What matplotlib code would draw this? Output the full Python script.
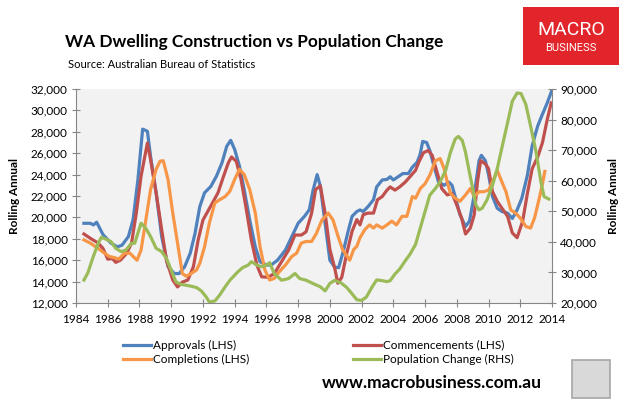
import matplotlib
matplotlib.use("Agg")
import matplotlib.pyplot as plt
from matplotlib.patches import Rectangle

plt.rcParams['font.family'] = ['Lato', 'DejaVu Sans']

# Approvals (LHS) - rolling annual
appr_yr = [1984.5, 1984.9, 1985.1, 1985.3, 1985.7, 1986.2, 1986.6, 1986.9, 1987.3, 1987.6,
           1987.9, 1988.2, 1988.5, 1988.7, 1989.05, 1989.4, 1989.8, 1990.2, 1990.5, 1990.85,
           1991.2, 1991.5, 1991.8, 1992.1, 1992.5, 1992.85, 1993.2, 1993.5, 1993.75, 1994.0,
           1994.3, 1994.6, 1994.95, 1995.3, 1995.6, 1996.0, 1996.3, 1996.7, 1997.2, 1997.6,
           1998.0, 1998.4, 1998.7, 1998.95, 1999.2, 1999.4, 1999.7, 2000.0, 2000.3, 2000.55,
           2000.85, 2001.15, 2001.4, 2001.7, 2001.9, 2002.1, 2002.4, 2002.75, 2002.95, 2003.3,
           2003.6, 2003.8, 2004.0, 2004.3, 2004.6, 2004.95, 2005.2, 2005.5, 2005.7, 2005.85,
           2006.1, 2006.3, 2006.55, 2006.85, 2007.2, 2007.5, 2007.7, 2007.9, 2008.2, 2008.55,
           2008.8, 2009.1, 2009.4, 2009.55, 2009.8, 2010.0, 2010.25, 2010.55, 2010.85, 2011.2,
           2011.5, 2011.8, 2012.1, 2012.45, 2012.75, 2013.1, 2013.4, 2013.7, 2014.0]
appr = [19450, 19450, 19300, 19550, 18400, 17600, 17250, 17400, 18200, 19800,
        23500, 28250, 28050, 25700, 22300, 18200, 15400, 14750, 14750, 15400,
        16650, 18500, 21000, 22300, 22900, 23850, 25100, 26650, 27200, 26350,
        24800, 22600, 19750, 17250, 15850, 15550, 15550, 16000, 16950, 18200,
        19450, 20100, 20700, 22600, 24000, 22900, 19450, 16000, 15350, 15300,
        16850, 18700, 20100, 20550, 20700, 20550, 21000, 21650, 22850, 23500,
        23550, 23800, 23500, 23800, 24100, 24100, 24700, 25150, 25950, 27100,
        27000, 26250, 24850, 23300, 23000, 23300, 23000, 21950, 20250, 19150,
        19650, 22100, 25300, 25800, 25300, 24000, 21950, 20850, 20550, 20400,
        19900, 20700, 21800, 23950, 26700, 28550, 29650, 30700, 31900]

# Commencements (LHS)
comm_yr = [1984.5, 1984.9, 1985.4, 1985.7, 1986.0, 1986.3, 1986.5, 1986.8, 1987.2, 1987.5,
           1987.8, 1988.1, 1988.5, 1988.7, 1989.05, 1989.4, 1989.7, 1990.1, 1990.4, 1990.7,
           1991.05, 1991.4, 1991.7, 1992.0, 1992.3, 1992.6, 1992.95, 1993.3, 1993.6, 1993.8,
           1994.1, 1994.4, 1994.7, 1995.05, 1995.4, 1995.7, 1996.1, 1996.5, 1996.95, 1997.4,
           1997.8, 1998.2, 1998.5, 1998.85, 1999.1, 1999.4, 1999.7, 2000.0, 2000.3, 2000.5,
           2000.75, 2001.05, 2001.4, 2001.7, 2001.9, 2002.1, 2002.4, 2002.75, 2003.0, 2003.3,
           2003.6, 2003.8, 2004.1, 2004.4, 2004.75, 2005.05, 2005.4, 2005.6, 2005.9, 2006.2,
           2006.45, 2006.75, 2007.05, 2007.4, 2007.7, 2008.0, 2008.3, 2008.55, 2008.85, 2009.1,
           2009.3, 2009.5, 2009.8, 2010.0, 2010.25, 2010.55, 2010.85, 2011.2, 2011.5, 2011.8,
           2012.15, 2012.45, 2012.75, 2013.1, 2013.4, 2013.7, 2013.95]
comm = [18450, 18050, 17600, 17100, 16100, 16150, 15800, 16000, 16650, 17600,
        20400, 23850, 26950, 25400, 22300, 18850, 16000, 14150, 13500, 13950,
        14150, 15400, 17900, 19750, 20550, 21350, 22300, 23850, 25100, 25650,
        25250, 23550, 21050, 17900, 15550, 14450, 14400, 14750, 15850, 16950,
        18350, 18350, 18650, 20400, 22600, 22950, 20400, 17000, 15300, 13850,
        14400, 16550, 18700, 19800, 19300, 20250, 20400, 20400, 21650, 21950,
        22550, 22850, 22550, 22850, 23300, 23800, 24400, 25150, 26050, 26250,
        25800, 24250, 22700, 22100, 22250, 21150, 19950, 18450, 19000, 20250,
        23300, 25300, 25000, 24550, 22400, 21500, 20850, 20100, 18550, 18100,
        19650, 22250, 24550, 25650, 27000, 29150, 30700]

# Completions (LHS)
comp_yr = [1984.5, 1984.9, 1985.4, 1985.8, 1986.1, 1986.4, 1986.7, 1987.05, 1987.4, 1987.6,
           1987.85, 1988.1, 1988.4, 1988.7, 1989.05, 1989.3, 1989.5, 1989.8, 1990.1, 1990.4,
           1990.7, 1990.95, 1991.25, 1991.6, 1991.8, 1992.1, 1992.4, 1992.75, 1993.05, 1993.4,
           1993.7, 1994.0, 1994.3, 1994.6, 1994.95, 1995.3, 1995.6, 1995.9, 1996.2, 1996.5,
           1996.8, 1997.2, 1997.6, 1997.9, 1998.2, 1998.5, 1998.85, 1999.15, 1999.5, 1999.9,
           2000.2, 2000.5, 2000.8, 2001.25, 2001.5, 2001.7, 2001.9, 2002.2, 2002.5, 2002.75,
           2002.95, 2003.3, 2003.6, 2003.9, 2004.2, 2004.55, 2004.85, 2005.2, 2005.4, 2005.7,
           2006.0, 2006.3, 2006.65, 2006.95, 2007.2, 2007.4, 2007.6, 2007.9, 2008.2, 2008.55,
           2008.85, 2009.1, 2009.4, 2009.7, 2010.0, 2010.35, 2010.55, 2010.75, 2011.1, 2011.4,
           2011.7, 2012.0, 2012.35, 2012.65, 2012.9, 2013.2, 2013.4, 2013.55]
comp = [17900, 17600, 17100, 16650, 16350, 16250, 16100, 16650, 16650, 16350,
        16000, 16950, 19750, 22600, 24500, 25250, 25300, 23550, 20400, 17600,
        14750, 14500, 14750, 15100, 15700, 17250, 19450, 21350, 21650, 21950,
        22450, 23550, 24500, 24000, 22600, 20400, 17250, 15100, 14150, 14300,
        14900, 15550, 16350, 16650, 17600, 17750, 17750, 18500, 19750, 20400,
        19750, 18300, 17000, 16000, 17000, 17300, 18100, 18850, 19300, 19000,
        19300, 19000, 19300, 19650, 19300, 20100, 20100, 21950, 21800, 22700,
        23150, 23950, 25300, 25500, 24550, 23300, 22250, 21800, 21500, 22100,
        22700, 21950, 22400, 22400, 22550, 23650, 24400, 23650, 22400, 20700,
        20400, 19950, 19150, 19000, 19950, 21800, 23150, 24300]

# Population change (RHS)
pop_yr = [1984.5, 1984.75, 1985.05, 1985.4, 1985.6, 1985.9, 1986.2, 1986.5, 1986.85, 1987.15,
          1987.5, 1987.7, 1987.9, 1988.1, 1988.4, 1988.7, 1989.05, 1989.4, 1989.7, 1990.0,
          1990.3, 1990.6, 1990.95, 1991.25, 1991.6, 1991.9, 1992.2, 1992.4, 1992.75, 1993.05,
          1993.4, 1993.7, 1993.9, 1994.2, 1994.5, 1994.85, 1995.05, 1995.4, 1995.7, 1996.0,
          1996.2, 1996.5, 1996.95, 1997.4, 1997.8, 1998.1, 1998.5, 1998.95, 1999.4, 1999.7,
          2000.0, 2000.3, 2000.7, 2001.05, 2001.4, 2001.7, 2002.0, 2002.3, 2002.65, 2002.95,
          2003.3, 2003.6, 2003.8, 2004.1, 2004.4, 2004.75, 2005.05, 2005.4, 2005.7, 2006.0,
          2006.3, 2006.65, 2006.95, 2007.3, 2007.6, 2007.9, 2008.1, 2008.35, 2008.55, 2008.75,
          2009.0, 2009.2, 2009.4, 2009.6, 2009.9, 2010.25, 2010.55, 2010.85, 2011.2, 2011.5,
          2011.8, 2012.05, 2012.35, 2012.65, 2013.0, 2013.3, 2013.5, 2013.8]
pop = [27500, 29900, 34600, 39550, 41500, 40850, 40100, 37900, 36800, 37350,
       39550, 39550, 42850, 46100, 44450, 41750, 37900, 36800, 34600, 30750,
       26900, 26150, 25800, 25500, 25050, 23950, 22000, 20350, 20650, 22550,
       25300, 27450, 28550, 30200, 31550, 32400, 33500, 32400, 31850, 32400,
       33200, 29650, 27450, 28000, 29650, 28000, 27450, 26350, 25300, 23950,
       26400, 27400, 26600, 25150, 23000, 21050, 20850, 21950, 25150, 27550,
       27300, 27000, 27300, 29450, 31100, 33800, 35950, 39150, 44550, 49950,
       55300, 57450, 59650, 63400, 69300, 73650, 74500, 73100, 69300, 63950,
       57450, 52100, 50450, 51000, 53700, 58550, 63950, 70950, 79000, 86000,
       88700, 88500, 84950, 77950, 69300, 59650, 54800, 54000]

year_ticks = list(range(1984, 2015, 2))
lhs_ticks = list(range(12000, 32001, 2000))
rhs_ticks = list(range(20000, 90001, 10000))

blue, red, orange, green = '#4F81BD', '#C0504D', '#F79646', '#9BBB59'
axis_col = '#868686'

fig = plt.figure(figsize=(6.39, 3.99), dpi=100)
ax = fig.add_axes([76 / 639, 96 / 399, 476 / 639, 214 / 399])
ax.set_facecolor('#F2F2F2')
ax2 = ax.twinx()

lw = 2.3
l1, = ax.plot(appr_yr, appr, color=blue, lw=lw, label='Approvals (LHS)')
l2, = ax.plot(comm_yr, comm, color=red, lw=lw, label='Commencements (LHS)')
l3, = ax.plot(comp_yr, comp, color=orange, lw=lw, label='Completions (LHS)')
l4, = ax2.plot(pop_yr, pop, color=green, lw=lw, label='Population Change (RHS)')

ax.set_xlim(1984, 2014)
ax.set_ylim(12000, 32000)
ax2.set_ylim(20000, 90000)
ax.set_xticks(year_ticks)
ax.set_xticklabels([str(y) for y in year_ticks])
ax.set_yticks(lhs_ticks)
ax.set_yticklabels(['{:,}'.format(v) for v in lhs_ticks])
ax2.set_yticks(rhs_ticks)
ax2.set_yticklabels(['{:,}'.format(v) for v in rhs_ticks])

for a in (ax, ax2):
    a.spines['top'].set_visible(False)
    for s in ('left', 'right', 'bottom'):
        a.spines[s].set_color(axis_col)
    a.tick_params(direction='inout', length=6, color=axis_col, labelsize=8.5,
                  labelcolor='black', pad=3)
ax.tick_params(axis='x', pad=5)
ax.spines['right'].set_visible(False)
ax2.spines['left'].set_visible(False)
ax2.spines['bottom'].set_visible(False)

ax.set_ylabel('Rolling Annual', fontsize=8.5, fontweight='bold', labelpad=8)
ax2.set_ylabel('Rolling Annual', fontsize=8.5, fontweight='bold', labelpad=8)

fig.text(65 / 639, 1 - 42 / 399, 'WA Dwelling Construction vs Population Change',
         fontsize=12.4, fontweight='bold', va='center', ha='left')
fig.text(68 / 639, 1 - 65 / 399, 'Source: Australian Bureau of Statistics',
         fontsize=8, va='center', ha='left')

fig.legend([l1, l3, l2, l4], [h.get_label() for h in (l1, l3, l2, l4)],
           ncol=2, loc='upper left', bbox_to_anchor=(112 / 639, 1 - 329 / 399),
           frameon=False, fontsize=8.5, handlelength=2.4, handletextpad=0.15,
           columnspacing=8.8, labelspacing=0.3)

fig.text(432 / 639, 1 - 383 / 399, 'www.macrobusiness.com.au', fontsize=12.5,
         fontweight='bold', ha='center', va='center')

# MACRO BUSINESS logo box
fig.patches.append(Rectangle((523 / 639, 1 - 65 / 399), 96 / 639, 58 / 399,
                             transform=fig.transFigure, facecolor='#E1252B',
                             edgecolor='none'))
fig.text(571 / 639, 1 - 30 / 399, 'MACRO', color='white', fontsize=14,
         family='Roboto', ha='center', va='center')
fig.text(571 / 639, 1 - 48 / 399, 'BUSINESS', color='white', fontsize=8,
         family='Roboto', ha='center', va='center')

# placeholder for the fox picture
fig.patches.append(Rectangle((572 / 639, 1 - 398 / 399), 38 / 639, 38 / 399,
                             transform=fig.transFigure, facecolor='#D9D9D9',
                             edgecolor='#A6A6A6', lw=1.2))

fig.savefig('out.png', dpi=100)
